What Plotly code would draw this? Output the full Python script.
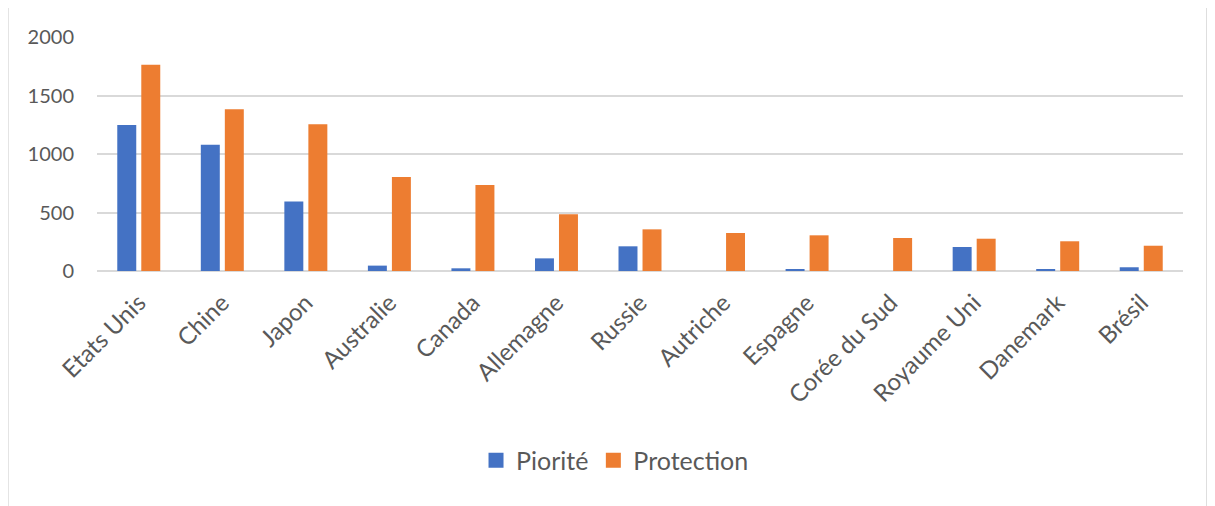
import plotly.graph_objects as go

categories = ["Etats Unis", "Chine", "Japon", "Australie", "Canada", "Allemagne", "Russie",
              "Autriche", "Espagne", "Corée du Sud", "Royaume Uni", "Danemark", "Brésil"]
priorite = [1248, 1080, 593, 46, 23, 108, 211, 0, 15, 0, 205, 14, 32]
protection = [1763, 1382, 1254, 803, 735, 484, 356, 325, 305, 282, 276, 254, 216]
y_ticks = [0, 500, 1000, 1500, 2000]
series_names = ["Piorité", "Protection"]
colors = ["#4472C4", "#ED7D31"]

FONT = "Lato"
TXT = "#595959"

fig = go.Figure()
for name, vals, col in zip(series_names, [priorite, protection], colors):
    fig.add_trace(go.Bar(x=categories, y=vals, name=name, marker_color=col,
                         marker_line_width=0, showlegend=False, legendgroup=name))
# legend entries with larger square swatches
for name, col in zip(series_names, colors):
    fig.add_trace(go.Scatter(x=[categories[0]], y=[None], mode="markers", name=name,
                             marker=dict(symbol="square", size=15, color=col),
                             legendgroup=name, showlegend=True, hoverinfo="skip"))

fig.update_layout(
    width=1207, height=498,
    margin=dict(l=89, r=32, t=29, b=235),
    paper_bgcolor="white", plot_bgcolor="white",
    barmode="group", bargap=0.425, bargroupgap=0.21,
    font=dict(family=FONT, color=TXT, size=20),
    legend=dict(orientation="h", x=0.477, xanchor="center", y=-0.81, yanchor="middle",
                font=dict(size=25, color=TXT), itemwidth=30, tracegroupgap=0),
    xaxis=dict(tickangle=-45, tickfont=dict(size=24, color=TXT), showgrid=False,
               showline=False, ticks="", ticklabelstandoff=12,
               range=[-0.5, len(categories) - 0.5], autorange=False),
    yaxis=dict(range=[0, 2000], tickvals=y_ticks, gridcolor="#d9d9d9", gridwidth=1.5,
               zeroline=True, zerolinecolor="#d9d9d9", zerolinewidth=1.5,
               showline=False, ticks="", ticklabelstandoff=22,
               tickfont=dict(size=20, color=TXT)),
    shapes=[dict(type="rect", xref="paper", yref="paper", x0=-0.082, x1=1.022,
                 y0=-1.2, y1=1.145, line=dict(color="#d9d9d9", width=1.5),
                 fillcolor="rgba(0,0,0,0)", layer="below")],
)

fig.write_html("out.html")
